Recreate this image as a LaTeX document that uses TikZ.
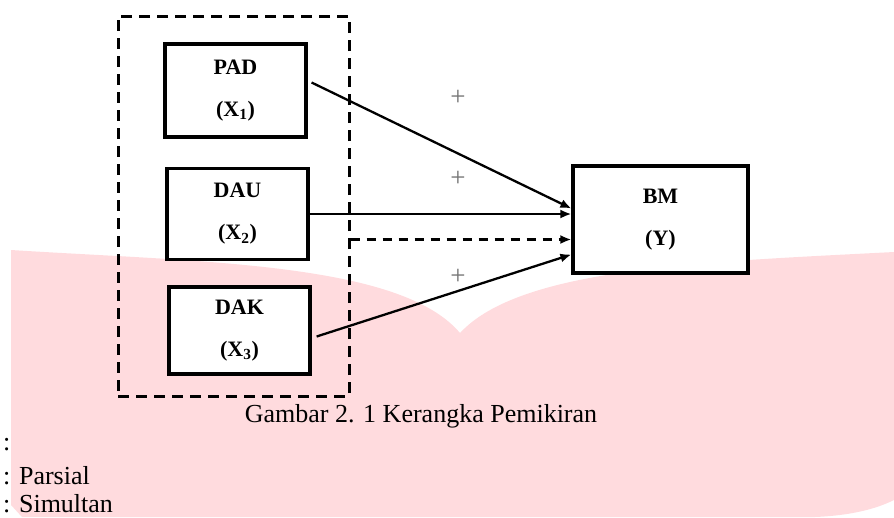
\documentclass[tikz,border=0pt]{standalone}
\usepackage{fontspec}
\setmainfont{Liberation Serif}
\usetikzlibrary{arrows.meta}
\definecolor{wmpink}{RGB}{255,219,222}
\tikzset{
  varbox/.style={draw, line width=3.2pt, minimum width=141pt, align=center,
    font=\fontsize{22}{42}\selectfont\bfseries},
  grpbox/.style={draw, dashed, line width=3pt, dash pattern=on 11pt off 7pt,
    minimum width=231pt, minimum height=380pt},
  arr/.style={line width=2.3pt, -{Latex[length=11pt,width=9pt]}},
  sign/.style={text=black!55, font=\fontsize{27}{27}\selectfont},
  lbl/.style={font=\fontsize{26}{26}\selectfont}
}
\begin{document}
\begin{tikzpicture}[x=1pt, y=-1pt]
                \useasboundingbox (0,0) rectangle (894,517);
                \fill[wmpink] (22,517) -- (11,505) -- (11,250) .. controls (200,262) and (400,262) .. (460,333)
                    .. controls (520,268) and (700,262) .. (894,252) -- (894,500)
                    .. controls (870,512) and (840,516) .. (815,517) -- cycle;

                \node[grpbox] (grp) at (233.5,206) {};
                \node[varbox, fill=white, minimum height=93pt] (pad) at (235.5,90.5) {PAD\\(X\textsubscript{1})};
                \node[varbox, fill=white, minimum height=91pt] (dau) at (237.5,214) {DAU\\(X\textsubscript{2})};
                \node[varbox, fill=white, minimum height=87pt] (dak) at (239.5,330.5) {DAK\\(X\textsubscript{3})};
                \node[varbox, fill=white, minimum width=175pt, minimum height=107pt] (bm) at (660.5,219.5) {BM\\(Y)};

                \coordinate (sim) at ([yshift=-20pt]bm.west);
                \draw[arr] ([xshift=4pt,yshift=8pt]pad.east) -- ([yshift=11pt]bm.west);
                \draw[arr] (dau.east) -- (dau.east -| bm.west);
                \draw[arr, dashed, dash pattern=on 9pt off 7pt] (grp.east |- sim) -- (sim);
                \draw[arr] ([xshift=5pt,yshift=-6pt]dak.east) -- ([yshift=-35pt]bm.west);

                \node[sign] (p1) at (458,98) {+};
                \node[sign] (p2) at (458,179) {+};
                \node[sign] (p3) at (458,277) {+};

                \node[lbl] (cap) at (421,416) {Gambar 2. 1 Kerangka Pemikiran};
                \node[lbl, anchor=west, inner sep=0pt] (k0) at (3,445) {:};
                \node[lbl, anchor=west, inner sep=0pt] (k1) at (3,476) {: Parsial};
                \node[lbl, anchor=west, inner sep=0pt] (k2) at (3,504) {: Simultan};
            \end{tikzpicture}
\end{document}
